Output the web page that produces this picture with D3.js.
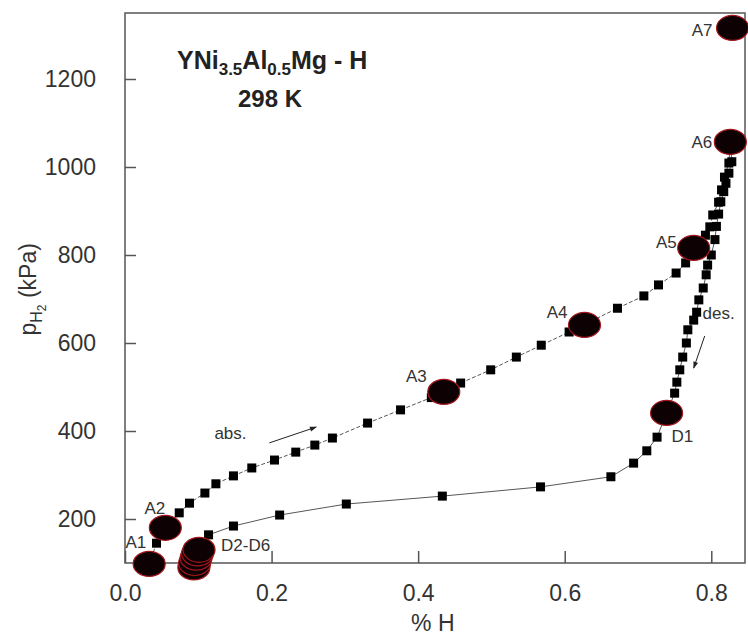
<!DOCTYPE html>
<html>
<head>
<meta charset="utf-8">
<script src="https://cdn.jsdelivr.net/npm/d3@7"></script>
<style>
  body { margin: 0; background: #fff; }
  svg { font-family: "Liberation Sans", Arial, sans-serif; }
</style>
</head>
<body>
<svg id="chart" width="748" height="637"></svg>
<script>
// absorption isotherm (squares)
const absX = [0.043, 0.074, 0.088, 0.109, 0.124, 0.148, 0.173, 0.204, 0.233, 0.259, 0.283, 0.331, 0.376, 0.418, 0.458, 0.499, 0.534, 0.568, 0.606, 0.672, 0.708, 0.728, 0.752, 0.765, 0.785, 0.792, 0.798, 0.802, 0.810, 0.814, 0.818, 0.824];
const absP = [145, 214, 236, 259, 280, 298, 316, 334, 352, 368, 384, 418, 448, 476, 509, 539, 568, 595, 625, 679, 707, 732, 759, 782, 825, 845, 864, 891, 920, 948, 977, 1009];

// desorption isotherm (squares), upper steep part then lower branch
const desX = [0.828, 0.824, 0.820, 0.817, 0.813, 0.810, 0.807, 0.805, 0.800, 0.795, 0.793, 0.789, 0.783, 0.780, 0.776, 0.768, 0.766, 0.761, 0.757, 0.753, 0.750];
const desP = [1012, 986, 963, 944, 921, 893, 865, 835, 800, 777, 755, 725, 698, 670, 652, 630, 600, 568, 539, 511, 486];
const des2X = [0.726, 0.712, 0.694, 0.663, 0.567, 0.433, 0.302, 0.211, 0.148, 0.114];
const des2P = [386, 355, 327, 296, 273, 252, 234, 209, 184, 164];

// measurement points (ellipses)
const markNames = ["A1", "A2", "A3", "A4", "A5", "A6", "A7", "D1", "D6", "D5", "D4", "D3", "D2"];
const markX = [0.033, 0.055, 0.435, 0.627, 0.776, 0.826, 0.829, 0.739, 0.094, 0.095, 0.097, 0.099, 0.101];
const markP = [98, 180, 489, 641, 816, 1057, 1316, 441, 90, 100, 112, 122, 130];

const xTicks = [0, 0.2, 0.4, 0.6, 0.8];
const yTicks = [200, 400, 600, 800, 1000, 1200];

const margin = { top: 13, left: 125, right: 3, bottom: 74 };
const W = 748, H = 637;

const svg = d3.select("#chart");
const x = d3.scaleLinear().domain([0, 0.846]).range([margin.left, W - margin.right]);
const y = d3.scaleLinear().domain([100, 1350]).range([H - margin.bottom, margin.top]);

const axisColor = "#555";
const textColor = "#333";

// frame
svg.append("rect")
  .attr("x", x(0)).attr("y", y(1350))
  .attr("width", x(0.846) - x(0)).attr("height", y(100) - y(1350))
  .attr("fill", "none").attr("stroke", axisColor).attr("stroke-width", 1.5);

// x axis ticks (inward), minor at 0.1
const xAxis = svg.append("g").attr("transform", `translate(0,${y(100)})`);
xAxis.call(d3.axisBottom(x).tickValues(d3.range(0, 0.85, 0.1)).tickSize(-7).tickFormat(""));
xAxis.call(d3.axisBottom(x).tickValues(xTicks).tickSize(-12).tickFormat(d3.format(".1f")).tickPadding(22));
xAxis.selectAll(".domain").remove();
xAxis.selectAll("line").attr("stroke", axisColor).attr("stroke-width", 1.5);
xAxis.selectAll("text").attr("font-size", 23).attr("fill", textColor).attr("font-family", null);

const yAxis = svg.append("g").attr("transform", `translate(${x(0)},0)`);
yAxis.call(d3.axisLeft(y).tickValues(d3.range(100, 1350, 100)).tickSize(-7).tickFormat(""));
yAxis.call(d3.axisLeft(y).tickValues(yTicks).tickSize(-11).tickFormat(d3.format("d")).tickPadding(29));
yAxis.selectAll(".domain").remove();
yAxis.selectAll("line").attr("stroke", axisColor).attr("stroke-width", 1.5);
yAxis.selectAll("text").attr("font-size", 23).attr("fill", textColor).attr("font-family", null);

// axis titles
svg.append("text")
  .attr("x", x(0.42)).attr("y", 631)
  .attr("text-anchor", "middle").attr("font-size", 23).attr("fill", textColor)
  .text("% H");

const yLab = svg.append("text")
  .attr("transform", `translate(36,${y(722)}) rotate(-90)`)
  .attr("text-anchor", "middle").attr("font-size", 23).attr("fill", textColor);
yLab.append("tspan").text("p");
yLab.append("tspan").attr("font-size", 16).attr("dy", 6).text("H");
yLab.append("tspan").attr("font-size", 12).attr("dy", 4).text("2");
yLab.append("tspan").attr("dy", -10).text(" (kPa)");

// sample title
const title = svg.append("text")
  .attr("x", 177).attr("y", 69)
  .attr("font-size", 25).attr("font-weight", "bold").attr("fill", "#222");
title.append("tspan").text("YNi");
title.append("tspan").attr("font-size", 17).attr("dy", 6).text("3.5");
title.append("tspan").attr("dy", -6).text("Al");
title.append("tspan").attr("font-size", 17).attr("dy", 6).text("0.5");
title.append("tspan").attr("dy", -6).text("Mg - H");
svg.append("text")
  .attr("x", 270).attr("y", 107).attr("text-anchor", "middle")
  .attr("font-size", 24).attr("font-weight", "bold").attr("fill", "#222")
  .text("298 K");

// connecting lines
const line = d3.line().x(d => x(d[0])).y(d => y(d[1]));
const absPts = [[markX[0], markP[0]]].concat(absX.map((v, i) => [v, absP[i]]));
absPts.push([markX[5], markP[5]]);
const desPts = [[markX[5], markP[5]]]
  .concat(desX.map((v, i) => [v, desP[i]]))
  .concat([[markX[7], markP[7]]])
  .concat(des2X.map((v, i) => [v, des2P[i]]))
  .concat([[markX[12], markP[12]]]);

svg.append("path").attr("d", line(absPts))
  .attr("fill", "none").attr("stroke", "#444").attr("stroke-width", 0.9).attr("stroke-dasharray", "4,2");
svg.append("path").attr("d", line(desPts))
  .attr("fill", "none").attr("stroke", "#444").attr("stroke-width", 0.9);

// squares
const sq = 9;
const allSq = absX.map((v, i) => [v, absP[i]])
  .concat(desX.map((v, i) => [v, desP[i]]))
  .concat(des2X.map((v, i) => [v, des2P[i]]));
svg.append("g").selectAll("rect").data(allSq).join("rect")
  .attr("x", d => x(d[0]) - sq / 2).attr("y", d => y(d[1]) - sq / 2)
  .attr("width", sq).attr("height", sq).attr("fill", "#000");

// ellipses
svg.append("g").selectAll("ellipse").data(markX.map((v, i) => [v, markP[i]])).join("ellipse")
  .attr("cx", d => x(d[0])).attr("cy", d => y(d[1]))
  .attr("rx", 16).attr("ry", 12.5)
  .attr("fill", "#0e0103").attr("stroke", "#a3161c").attr("stroke-width", 1.2);

// point labels, placed relative to their ellipse
const labelOffset = {
  A1: [-3, -16, "end"], A2: [0, -14, "end"], A3: [-17, -10, "end"], A4: [-17, -7, "end"],
  A5: [-17, 0, "end"], A6: [-18, 6, "end"], A7: [-20, 8, "end"], D1: [5, 29, "start"]
};
markNames.forEach((n, i) => {
  const o = labelOffset[n];
  if (!o) return;
  svg.append("text")
    .attr("x", x(markX[i]) + o[0]).attr("y", y(markP[i]) + o[1])
    .attr("text-anchor", o[2]).attr("font-size", 17).attr("fill", textColor)
    .text(n);
});
const iD2 = markNames.indexOf("D2");
svg.append("text")
  .attr("x", x(markX[iD2]) + 22).attr("y", y(markP[iD2]) + 1)
  .attr("font-size", 17).attr("fill", textColor).text("D2-D6");

// direction notes
const notes = [
  { text: "abs.", tx: 0.122, tp: 382, from: [0.197, 373], to: [0.261, 409] },
  { text: "des.", tx: 0.788, tp: 655, from: [0.791, 616], to: [0.776, 543] }
];
svg.append("defs").append("marker")
  .attr("id", "head").attr("viewBox", "0 0 10 10").attr("refX", 9).attr("refY", 5)
  .attr("markerWidth", 9).attr("markerHeight", 7).attr("orient", "auto")
  .append("path").attr("d", "M0,1.5L10,5L0,8.5Z").attr("fill", "#222");
notes.forEach(n => {
  svg.append("text").attr("x", x(n.tx)).attr("y", y(n.tp))
    .attr("font-size", 17).attr("fill", textColor).text(n.text);
  svg.append("line")
    .attr("x1", x(n.from[0])).attr("y1", y(n.from[1]))
    .attr("x2", x(n.to[0])).attr("y2", y(n.to[1]))
    .attr("stroke", "#222").attr("stroke-width", 1).attr("marker-end", "url(#head)");
});
</script>
</body>
</html>
